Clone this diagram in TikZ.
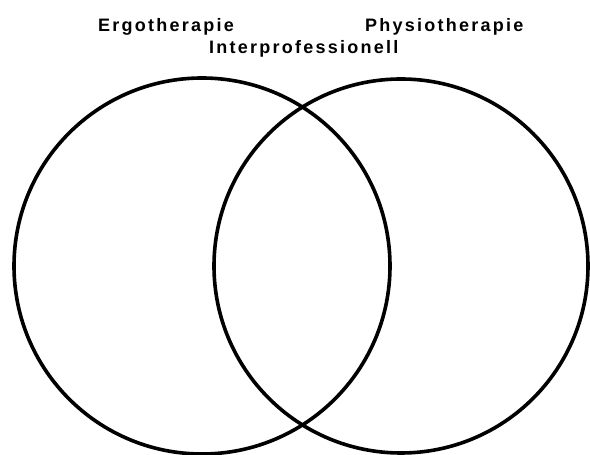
\documentclass[tikz,border=0pt]{standalone}
\usepackage{fontspec}
\setmainfont{Liberation Sans}
\newfontfamily\labelfont[LetterSpace=12.5]{Liberation Sans}
\begin{document}
\begin{tikzpicture}[x=1pt,y=1pt,
  ring/.style={draw=black,line width=3.6pt},
  lbl/.style={inner sep=0pt,anchor=base west,font=\labelfont\bfseries\fontsize{18}{21}\selectfont}]
\useasboundingbox (0,0) rectangle (590,455);
\node[ring,circle,minimum size=376pt,inner sep=0pt] (ergo) at (202,189) {};
\node[ring,circle,minimum size=374pt,inner sep=0pt] (physio) at (401,189) {};
\node[lbl] (t1) at (98,423.5) {Ergotherapie};
\node[lbl] (t2) at (365,423.5) {Physiotherapie};
\node[lbl] (t3) at (209,401) {Interprofessionell};
\end{tikzpicture}
\end{document}
